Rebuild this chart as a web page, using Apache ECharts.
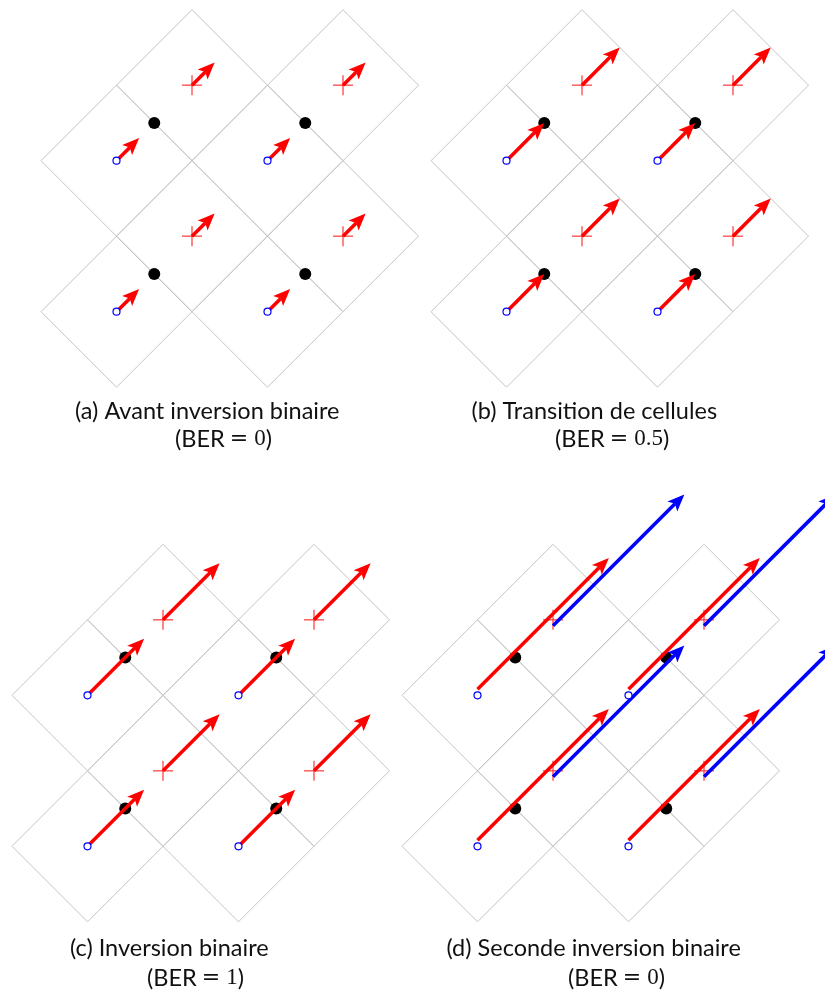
<!DOCTYPE html>
<html>
<head>
<meta charset="utf-8">
<script src="https://cdn.jsdelivr.net/npm/echarts@6/dist/echarts.min.js"></script>
<style>
  html, body { margin: 0; padding: 0; background: #fff; }
  #chart { width: 825px; height: 994px; }
</style>
</head>
<body>
<div id="chart"></div>
<script>
// points of the two lattices (unit = half diagonal of a cell)
const latticeZero = [[0, 0], [2, 0], [0, -2], [2, -2]];     // bit 0, blue circles
const latticeOne = [[1, 1], [3, 1], [1, -1], [3, -1]];      // bit 1, red crosses
const boundaryPoints = [[0.5, 0.5], [2.5, 0.5], [0.5, -1.5], [2.5, -1.5]];
const cellCenters = latticeZero.concat(latticeOne);
const cellHalf = 1;

// arrows [x1, y1, x2, y2]
const redArrowsA = [
    [0, 0, 0.3, 0.3], [2, 0, 2.3, 0.3], [0, -2, 0.3, -1.7], [2, -2, 2.3, -1.7],
    [1, 1, 1.3, 1.3], [3, 1, 3.3, 1.3], [1, -1, 1.3, -0.7], [3, -1, 3.3, -0.7]
];
const redArrowsB = [
    [0, 0, 0.5, 0.5], [2, 0, 2.5, 0.5], [0, -2, 0.5, -1.5], [2, -2, 2.5, -1.5],
    [1, 1, 1.5, 1.5], [3, 1, 3.5, 1.5], [1, -1, 1.5, -0.5], [3, -1, 3.5, -0.5]
];
const redArrowsC = [
    [0, 0, 0.75, 0.75], [2, 0, 2.75, 0.75], [0, -2, 0.75, -1.25], [2, -2, 2.75, -1.25],
    [1, 1, 1.75, 1.75], [3, 1, 3.75, 1.75], [1, -1, 1.75, -0.25], [3, -1, 3.75, -0.25]
];
const redArrowsD = [
    [0, 0.08, 1.74, 1.82], [2, 0.08, 3.74, 1.82], [0, -1.92, 1.74, -0.18], [2, -1.92, 3.74, -0.18]
];
const blueArrowsD = [
    [1, 0.92, 2.74, 2.66], [3, 0.92, 4.74, 2.66], [1, -1.08, 2.74, 0.66], [3, -1.08, 4.74, 0.66]
];

const captionsTop = ['(a) Avant inversion binaire', '(b) Transition de cellules'];
const captionsBottom = ['(c) Inversion binaire', '(d) Seconde inversion binaire'];
const berValues = ['0', '0.5', '1', '0'];

const panels = [
    { left: 41, top: 9.7, red: redArrowsA, blue: [] },
    { left: 431, top: 9.7, red: redArrowsB, blue: [] },
    { left: 12, top: 544.3, red: redArrowsC, blue: [] },
    { left: 402, top: 544.3, red: redArrowsD, blue: blueArrowsD }
];
const side = 377.5;

let chart = echarts.init(document.getElementById('chart'));

function cellItem(params, api) {
    let cx = api.value(0), cy = api.value(1);
    let pts = [
        api.coord([cx - cellHalf, cy]),
        api.coord([cx, cy + cellHalf]),
        api.coord([cx + cellHalf, cy]),
        api.coord([cx, cy - cellHalf])
    ];
    return {
        type: 'polygon',
        shape: { points: pts },
        style: { fill: 'none', stroke: '#c4c4c4', lineWidth: 1 }
    };
}

function crossItem(params, api) {
    let p = api.coord([api.value(0), api.value(1)]);
    let s = 10;
    return {
        type: 'group',
        children: [
            { type: 'line', shape: { x1: p[0] - s, y1: p[1], x2: p[0] + s, y2: p[1] }, style: { stroke: 'rgba(255,40,40,0.75)', lineWidth: 1.5 } },
            { type: 'line', shape: { x1: p[0], y1: p[1] - s, x2: p[0], y2: p[1] + s }, style: { stroke: 'rgba(255,40,40,0.75)', lineWidth: 1.5 } }
        ]
    };
}

function arrowRenderer(color) {
    return function (params, api) {
        let p1 = api.coord([api.value(0), api.value(1)]);
        let p2 = api.coord([api.value(2), api.value(3)]);
        let dx = p2[0] - p1[0], dy = p2[1] - p1[1];
        let len = Math.sqrt(dx * dx + dy * dy);
        let ux = dx / len, uy = dy / len;
        let nx = -uy, ny = ux;
        let headLen = 17, headW = 7;
        let bx = p2[0] - ux * headLen, by = p2[1] - uy * headLen;
        let notch = [p2[0] - ux * headLen * 0.78, p2[1] - uy * headLen * 0.78];
        return {
            type: 'group',
            children: [
                {
                    type: 'line',
                    shape: { x1: p1[0], y1: p1[1], x2: notch[0], y2: notch[1] },
                    style: { stroke: color, lineWidth: 3.6 }
                },
                {
                    type: 'polygon',
                    shape: { points: [p2, [bx + nx * headW, by + ny * headW], notch, [bx - nx * headW, by - ny * headW]] },
                    style: { fill: color }
                }
            ]
        };
    };
}

let grids = [], xAxes = [], yAxes = [], series = [];
panels.forEach(function (p, i) {
    grids.push({ left: p.left, top: p.top, width: side, height: side });
    xAxes.push({ gridIndex: i, type: 'value', min: -1, max: 4, show: false });
    yAxes.push({ gridIndex: i, type: 'value', min: -3, max: 2, show: false });
    series.push({
        type: 'custom', xAxisIndex: i, yAxisIndex: i, z: 1,
        renderItem: cellItem, data: cellCenters, silent: true
    });
    series.push({
        type: 'scatter', xAxisIndex: i, yAxisIndex: i, z: 2,
        symbol: 'circle', symbolSize: 12, itemStyle: { color: '#000', opacity: 1 },
        data: boundaryPoints, silent: true
    });
    series.push({
        type: 'custom', xAxisIndex: i, yAxisIndex: i, z: 3,
        renderItem: crossItem, data: latticeOne, silent: true
    });
    series.push({
        type: 'custom', xAxisIndex: i, yAxisIndex: i, z: 4,
        renderItem: arrowRenderer('#ff0000'), data: p.red, silent: true
    });
    if (p.blue.length) {
        series.push({
            type: 'custom', xAxisIndex: i, yAxisIndex: i, z: 5,
            renderItem: arrowRenderer('#0000ff'), data: p.blue, silent: true
        });
    }
    series.push({
        type: 'scatter', xAxisIndex: i, yAxisIndex: i, z: 6,
        symbol: 'circle', symbolSize: 7,
        itemStyle: { color: '#fff', borderColor: '#0000ff', borderWidth: 1.2, opacity: 1 },
        data: latticeZero, silent: true
    });
});

// caption positions: [x line1, y line1, x line2, y line2]
const captionPos = [[75, 411, 175, 439], [471.5, 411, 555, 439], [70, 948, 147, 978], [446.5, 948, 568, 978]];
const captionText = captionsTop.concat(captionsBottom);
let graphics = [];
captionText.forEach(function (t, i) {
    let c = captionPos[i];
    graphics.push({
        type: 'text', x: c[0], y: c[1],
        style: { text: t, font: '23.5px Lato', fill: '#111', verticalAlign: 'middle', align: 'left' }
    });
    graphics.push({
        type: 'text', x: c[2], y: c[3],
        style: {
            text: '{t|(BER}{e|=}{m|' + berValues[i] + '}{t|)}',
            verticalAlign: 'middle', align: 'left',
            rich: {
                t: { font: '23.5px Lato', fill: '#111' },
                e: { font: '22px "DejaVu Serif"', fill: '#111', padding: [0, 6, 0, 5] },
                m: { font: '23px "Liberation Serif"', fill: '#111' }
            }
        }
    });
});

chart.setOption({
    animation: false,
    grid: grids,
    xAxis: xAxes,
    yAxis: yAxes,
    series: series,
    graphic: graphics
});
</script>
</body>
</html>
